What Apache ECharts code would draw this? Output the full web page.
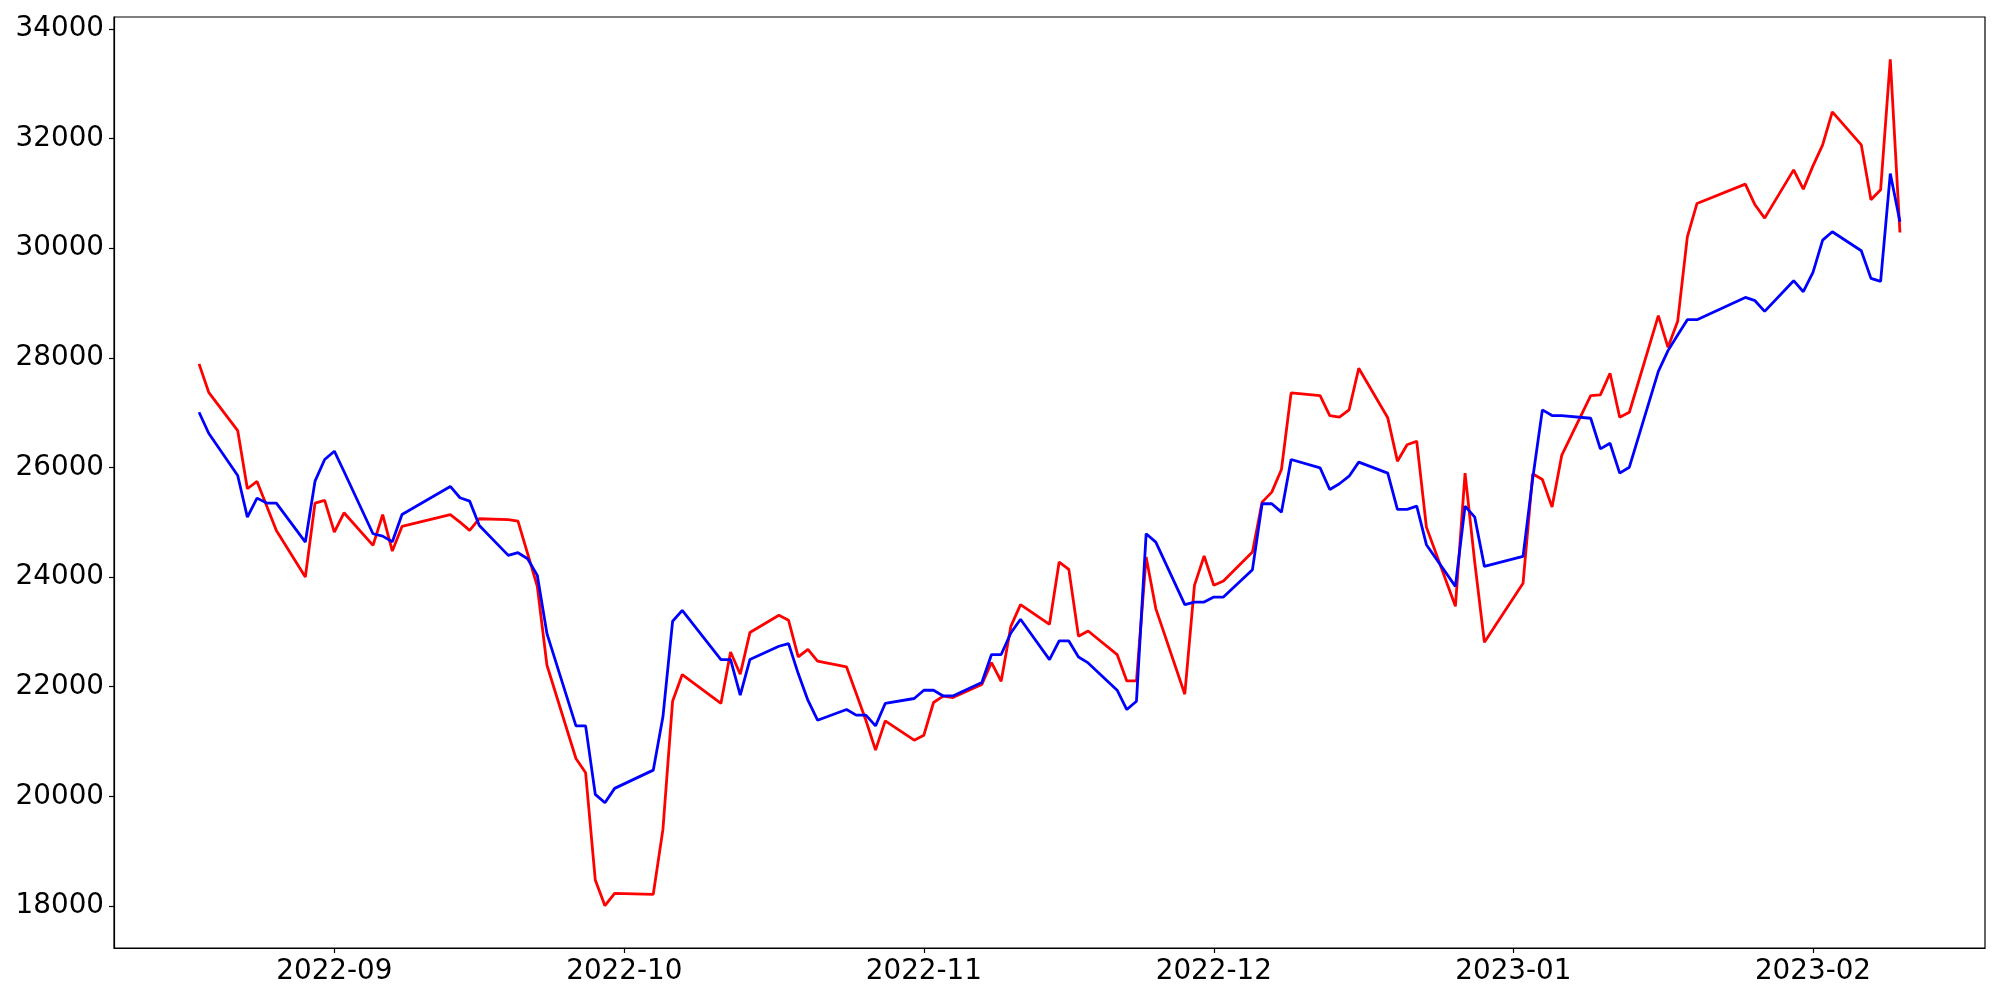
<!DOCTYPE html>
<html>
<head>
<meta charset="utf-8">
<script src="https://cdn.jsdelivr.net/npm/echarts@6/dist/echarts.min.js"></script>
<style>
html,body{margin:0;padding:0;background:#fff;}
#chart{width:2000px;height:1000px;}
</style>
</head>
<body>
<div id="chart"></div>
<script>
const dates = [
 '2022-08-18','2022-08-19','2022-08-22','2022-08-23','2022-08-24','2022-08-25','2022-08-26','2022-08-29','2022-08-30','2022-08-31',
 '2022-09-01','2022-09-02','2022-09-05','2022-09-06','2022-09-07','2022-09-08','2022-09-13','2022-09-14','2022-09-15','2022-09-16',
 '2022-09-19','2022-09-20','2022-09-21','2022-09-22','2022-09-23','2022-09-26','2022-09-27','2022-09-28','2022-09-29','2022-09-30',
 '2022-10-04','2022-10-05','2022-10-06','2022-10-07','2022-10-11','2022-10-12','2022-10-13','2022-10-14','2022-10-17','2022-10-18',
 '2022-10-19','2022-10-20','2022-10-21','2022-10-24','2022-10-25','2022-10-26','2022-10-27','2022-10-28','2022-10-31',
 '2022-11-01','2022-11-02','2022-11-03','2022-11-04','2022-11-07','2022-11-08','2022-11-09','2022-11-10','2022-11-11',
 '2022-11-14','2022-11-15','2022-11-16','2022-11-17','2022-11-18','2022-11-21','2022-11-22','2022-11-23','2022-11-24','2022-11-25',
 '2022-11-28','2022-11-29','2022-11-30',
 '2022-12-01','2022-12-02','2022-12-05','2022-12-06','2022-12-07','2022-12-08','2022-12-09','2022-12-12','2022-12-13','2022-12-14',
 '2022-12-15','2022-12-16','2022-12-19','2022-12-20','2022-12-21','2022-12-22','2022-12-23','2022-12-26','2022-12-27','2022-12-28','2022-12-29',
 '2023-01-02','2023-01-03','2023-01-04','2023-01-05','2023-01-06','2023-01-09','2023-01-10','2023-01-11','2023-01-12','2023-01-13',
 '2023-01-16','2023-01-17','2023-01-18','2023-01-19','2023-01-20','2023-01-25','2023-01-26','2023-01-27','2023-01-30','2023-01-31',
 '2023-02-01','2023-02-02','2023-02-03','2023-02-06','2023-02-07','2023-02-08','2023-02-09','2023-02-10'
];

const redValues = [
 27890,27372,26674,25612,25745,25298,24852,24001,25350,25399,
 24821,25174,24579,25138,24475,24925,25138,25003,24852,25065,
 25047,25021,24427,23831,22392,20691,20429,18474,18005,18231,
 18213,19397,21736,22222,21694,22634,22228,22988,23303,23212,
 22543,22683,22465,22361,21876,21389,20843,21377,21025,
 21116,21712,21827,21803,22040,22441,22100,23102,23498,
 23139,24274,24141,22920,23017,22587,22106,22106,24365,23425,
 21863,23850,24384,
 23850,23928,24457,25368,25550,25963,27361,27312,26947,26917,
 27051,27810,26906,26115,26414,26479,24912,23467,25896,24274,22811,
 23886,25885,25781,25277,26219,27312,27324,27719,26917,27008,
 28770,28193,28666,30209,30817,31169,30793,30550,31430,31078,
 31503,31886,32487,31886,30884,31066,33447,30288
];

const blueValues = [
 27008,26625,25854,25094,25441,25350,25350,24639,25750,26146,
 26297,25927,24791,24748,24646,25143,25654,25448,25386,24943,
 24396,24445,24336,24032,22969,21286,21286,20035,19883,20145,
 20478,21450,23194,23394,22495,22495,21845,22495,22738,22787,
 22240,21754,21389,21584,21481,21481,21286,21694,21785,
 21936,21936,21832,21832,22076,22587,22587,22980,23230,
 22495,22835,22835,22543,22434,21936,21584,21736,24792,24639,
 23497,23545,23545,
 23636,23636,24136,25338,25338,25185,26146,25994,25599,25703,
 25841,26097,25896,25235,25235,25295,24591,23831,25295,25094,24196,
 24378,25799,27051,26947,26947,26898,26340,26443,25896,26005,
 27755,28132,28418,28697,28697,29103,29043,28848,29408,29207,
 29559,30149,30301,29954,29450,29395,31363,30483
];

const xTickLabels = ['2022-09','2022-10','2022-11','2022-12','2023-01','2023-02'];
const yTickValues = [18000,20000,22000,24000,26000,28000,30000,32000,34000];

function toTs(s){
  const p = s.split('-').map(Number);
  return Date.UTC(p[0], p[1]-1, p[2] || 1);
}
const ts = dates.map(toTs);
const xTickTs = xTickLabels.map(toTs);
const span = ts[ts.length-1] - ts[0];
const xMin = ts[0] - 0.05*span;
const xMax = ts[ts.length-1] + 0.05*span;
const allV = redValues.concat(blueValues);
const vMin = Math.min.apply(null, allV), vMax = Math.max.apply(null, allV);
const yMin = vMin - 0.05*(vMax - vMin);
const yMax = vMax + 0.05*(vMax - vMin);

const font = {fontFamily:'DejaVu Sans', fontSize:27.8, color:'#000'};

const chart = echarts.init(document.getElementById('chart'), null, {renderer:'canvas'});
chart.setOption({
  animation:false,
  backgroundColor:'#fff',
  grid:{left:114, right:15, top:17, bottom:52, show:true, borderColor:'#000', borderWidth:1.2, backgroundColor:'transparent'},
  xAxis:{
    type:'value', min:xMin, max:xMax,
    splitLine:{show:false},
    axisLine:{show:true, lineStyle:{color:'#000', width:1.2}},
    axisTick:{show:true, length:5, inside:false, lineStyle:{color:'#000', width:1.2}, customValues:xTickTs},
    axisLabel:Object.assign({margin:10, customValues:xTickTs, hideOverlap:false,
      formatter:function(v){
        let best = 0, bd = Infinity;
        xTickTs.forEach(function(t,i){ const d = Math.abs(t - v); if(d < bd){bd = d; best = i;} });
        return xTickLabels[best];
      }}, font)
  },
  yAxis:{
    type:'value', min:yMin, max:yMax,
    splitLine:{show:false},
    axisLine:{show:true, lineStyle:{color:'#000', width:1.2}},
    axisTick:{show:true, length:5, inside:false, lineStyle:{color:'#000', width:1.2}, customValues:yTickValues},
    axisLabel:Object.assign({margin:10, customValues:yTickValues, formatter:function(v){return String(Math.round(v));}}, font)
  },
  series:[
    {type:'line', name:'red', showSymbol:false, symbol:'none', data:ts.map((t,i)=>[t, redValues[i]]),
     lineStyle:{color:'#ff0000', width:2.8}, itemStyle:{color:'#ff0000'}},
    {type:'line', name:'blue', showSymbol:false, symbol:'none', data:ts.map((t,i)=>[t, blueValues[i]]),
     lineStyle:{color:'#0000ff', width:2.8}, itemStyle:{color:'#0000ff'}}
  ]
});
</script>
</body>
</html>
